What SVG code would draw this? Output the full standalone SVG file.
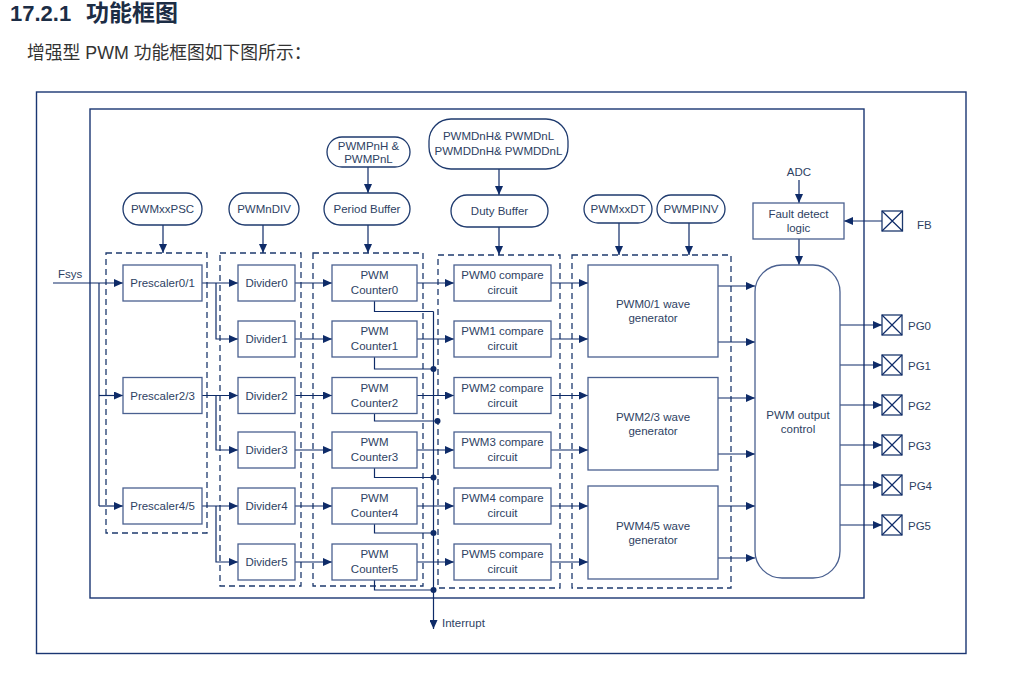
<svg xmlns="http://www.w3.org/2000/svg" width="1030" height="683" viewBox="0 0 1030 683">
<style>
  .t{font-family:"Liberation Sans",Arial,sans-serif;font-size:11.5px;fill:#2e3f63;text-anchor:middle}
  .tl{font-family:"Liberation Sans",Arial,sans-serif;font-size:11.5px;fill:#2e3f63}
  .box{fill:#fff;stroke:#4a6090;stroke-width:1.3}
  .pill{fill:#fff;stroke:#1e3a6e;stroke-width:1.3}
  .dash{fill:none;stroke:#1e3a6e;stroke-width:1.3;stroke-dasharray:6 4}
  .frame{fill:none;stroke:#1a3672;stroke-width:1.4}
  .ln{fill:none;stroke:#0e2b68;stroke-width:1.2}
  .arr{fill:none;stroke:#0e2b68;stroke-width:1.2;marker-end:url(#ah)}
  .pad{fill:#fff;stroke:#1e3a6e;stroke-width:1.3}
  .dot{fill:#0e2b68}
</style>
<defs>
  <marker id="ah" markerWidth="9" markerHeight="8" refX="9" refY="4" orient="auto" markerUnits="userSpaceOnUse">
    <path d="M0,0 L9,4 L0,8 Z" fill="#0e2b68"/>
  </marker>
</defs>
<rect width="1030" height="683" fill="#fff"/>

<!-- heading -->
<text x="10" y="21" font-family="'Liberation Sans',Arial,sans-serif" font-size="22" font-weight="bold" fill="#1c2d45">17.2.1</text>
<text x="86" y="21" font-family="'Noto Sans CJK SC',sans-serif" font-size="23" font-weight="bold" fill="#1c2d45">功能框图</text>
<text x="27" y="59" font-family="'Liberation Sans','Noto Sans CJK SC',sans-serif" font-size="17.8" fill="#333">增强型 PWM 功能框图如下图所示：</text>

<!-- frames -->
<rect class="frame" x="36.5" y="92" width="929.5" height="561.5"/>
<rect class="frame" x="90" y="109" width="774" height="489"/>

<!-- dashed groups -->
<rect class="dash" x="106" y="253" width="101" height="280"/>
<rect class="dash" x="220" y="253" width="81" height="333"/>
<rect class="dash" x="313" y="253" width="110" height="333"/>
<rect class="dash" x="438" y="255" width="122" height="333"/>
<rect class="dash" x="572" y="255" width="159" height="333"/>

<!-- connectors -->
<g id="connectors">
  <line class="arr" x1="163" y1="225" x2="163" y2="253"/>
  <line class="arr" x1="263" y1="225" x2="263" y2="253"/>
  <line class="arr" x1="368" y1="167" x2="368" y2="193"/>
  <line class="arr" x1="368" y1="225" x2="368" y2="253"/>
  <line class="arr" x1="499" y1="169" x2="499" y2="195"/>
  <line class="arr" x1="499" y1="227" x2="499" y2="255"/>
  <line class="arr" x1="619" y1="223" x2="619" y2="255"/>
  <line class="arr" x1="689" y1="223" x2="689" y2="255"/>
  <line class="arr" x1="53" y1="283" x2="123" y2="283"/>
  <path class="ln" d="M99,283 V506"/>
  <line class="arr" x1="99" y1="395.5" x2="123" y2="395.5"/>
  <line class="arr" x1="99" y1="506" x2="123" y2="506"/>
  <line class="arr" x1="202" y1="283" x2="238" y2="283"/>
  <path class="arr" d="M216,283 V339 H238"/>
  <line class="arr" x1="202" y1="395.5" x2="238" y2="395.5"/>
  <path class="arr" d="M216,395.5 V450 H238"/>
  <line class="arr" x1="202" y1="506" x2="238" y2="506"/>
  <path class="arr" d="M216,506 V562 H238"/>
  <line class="arr" x1="295" y1="283" x2="332" y2="283"/>
  <line class="arr" x1="295" y1="339" x2="332" y2="339"/>
  <line class="arr" x1="295" y1="395.5" x2="332" y2="395.5"/>
  <line class="arr" x1="295" y1="450" x2="332" y2="450"/>
  <line class="arr" x1="295" y1="506" x2="332" y2="506"/>
  <line class="arr" x1="295" y1="562" x2="332" y2="562"/>
  <line class="arr" x1="417" y1="283" x2="454" y2="283"/>
  <line class="arr" x1="417" y1="339" x2="454" y2="339"/>
  <line class="arr" x1="417" y1="395.5" x2="454" y2="395.5"/>
  <line class="arr" x1="417" y1="450" x2="454" y2="450"/>
  <line class="arr" x1="417" y1="506" x2="454" y2="506"/>
  <line class="arr" x1="417" y1="562" x2="454" y2="562"/>
  <line class="arr" x1="551" y1="283" x2="588" y2="283"/>
  <line class="arr" x1="551" y1="339" x2="588" y2="339"/>
  <line class="arr" x1="551" y1="395.5" x2="588" y2="395.5"/>
  <line class="arr" x1="551" y1="450" x2="588" y2="450"/>
  <line class="arr" x1="551" y1="506" x2="588" y2="506"/>
  <line class="arr" x1="551" y1="562" x2="588" y2="562"/>
  <line class="arr" x1="718" y1="286" x2="755" y2="286"/>
  <line class="arr" x1="718" y1="342" x2="755" y2="342"/>
  <line class="arr" x1="718" y1="398" x2="755" y2="398"/>
  <line class="arr" x1="718" y1="454" x2="755" y2="454"/>
  <line class="arr" x1="718" y1="506" x2="755" y2="506"/>
  <line class="arr" x1="718" y1="558" x2="755" y2="558"/>
  <path class="ln" d="M374.5,301 V311.5 H433.5"/>
  <path class="ln" d="M374.5,357 V369 H433.5"/>
  <path class="ln" d="M374.5,413.5 V421 H437.5"/>
  <path class="ln" d="M374.5,468 V477.5 H433.5"/>
  <path class="ln" d="M374.5,524 V533 H433.5"/>
  <path class="ln" d="M374.5,580 V590 H433.5"/>
  <line class="arr" x1="433.5" y1="311.5" x2="433.5" y2="629"/>
  <circle class="dot" cx="433.5" cy="369" r="3"/>
  <circle class="dot" cx="437.5" cy="421" r="3"/>
  <circle class="dot" cx="433.5" cy="477.5" r="3"/>
  <circle class="dot" cx="433.5" cy="533" r="3"/>
  <circle class="dot" cx="433.5" cy="590" r="3"/>
  <line class="arr" x1="799" y1="180" x2="799" y2="203"/>
  <line class="arr" x1="799" y1="239" x2="799" y2="265"/>
  <line class="arr" x1="882" y1="221" x2="844" y2="221"/>
  <line class="arr" x1="840" y1="325" x2="882" y2="325"/>
  <line class="arr" x1="840" y1="365" x2="882" y2="365"/>
  <line class="arr" x1="840" y1="405" x2="882" y2="405"/>
  <line class="arr" x1="840" y1="445" x2="882" y2="445"/>
  <line class="arr" x1="840" y1="485" x2="882" y2="485"/>
  <line class="arr" x1="840" y1="525" x2="882" y2="525"/>
</g>

<g id="n-pwmxxpsc"><rect class="pill" x="123" y="193" width="79" height="32" rx="16"/><text class="t" x="162.5" y="213">PWMxxPSC</text></g>
<g id="n-pwmndiv"><rect class="pill" x="229" y="193" width="70" height="32" rx="16"/><text class="t" x="264" y="213">PWMnDIV</text></g>
<g id="n-pwmpnh"><rect class="pill" x="327" y="137" width="83" height="30" rx="15"/><text class="t" x="368.5" y="150">PWMPnH &amp;</text><text class="t" x="368.5" y="163">PWMPnL</text></g>
<g id="n-period"><rect class="pill" x="324" y="193" width="86" height="32" rx="16"/><text class="t" x="367" y="213">Period Buffer</text></g>
<g id="n-pwmdnh"><rect class="pill" x="429" y="119" width="139" height="50" rx="22"/><text class="t" x="498.5" y="140">PWMDnH&amp; PWMDnL</text><text class="t" x="498.5" y="155">PWMDDnH&amp; PWMDDnL</text></g>
<g id="n-duty"><rect class="pill" x="451" y="195" width="97" height="32" rx="16"/><text class="t" x="499.5" y="215">Duty Buffer</text></g>
<g id="n-pwmxxdt"><rect class="pill" x="584" y="195" width="68" height="28" rx="14"/><text class="t" x="618" y="213">PWMxxDT</text></g>
<g id="n-pwmpinv"><rect class="pill" x="657" y="195" width="68" height="28" rx="14"/><text class="t" x="691" y="213">PWMPINV</text></g>

<g id="n-pre01"><rect class="box" x="123" y="265" width="79" height="36"/><text class="t" x="162.5" y="287">Prescaler0/1</text></g>
<g id="n-pre23"><rect class="box" x="123" y="377.5" width="79" height="36"/><text class="t" x="162.5" y="399.5">Prescaler2/3</text></g>
<g id="n-pre45"><rect class="box" x="123" y="488" width="79" height="36"/><text class="t" x="162.5" y="510">Prescaler4/5</text></g>

<g id="n-div0"><rect class="box" x="238" y="265" width="57" height="36"/><text class="t" x="266.5" y="287">Divider0</text></g>
<g id="n-div1"><rect class="box" x="238" y="321" width="57" height="36"/><text class="t" x="266.5" y="343">Divider1</text></g>
<g id="n-div2"><rect class="box" x="238" y="377.5" width="57" height="36"/><text class="t" x="266.5" y="399.5">Divider2</text></g>
<g id="n-div3"><rect class="box" x="238" y="432" width="57" height="36"/><text class="t" x="266.5" y="454">Divider3</text></g>
<g id="n-div4"><rect class="box" x="238" y="488" width="57" height="36"/><text class="t" x="266.5" y="510">Divider4</text></g>
<g id="n-div5"><rect class="box" x="238" y="544" width="57" height="36"/><text class="t" x="266.5" y="566">Divider5</text></g>

<g id="n-cnt0"><rect class="box" x="332" y="265" width="85" height="36"/><text class="t" x="374.5" y="279">PWM</text><text class="t" x="374.5" y="294">Counter0</text></g>
<g id="n-cnt1"><rect class="box" x="332" y="321" width="85" height="36"/><text class="t" x="374.5" y="335">PWM</text><text class="t" x="374.5" y="350">Counter1</text></g>
<g id="n-cnt2"><rect class="box" x="332" y="377.5" width="85" height="36"/><text class="t" x="374.5" y="391.5">PWM</text><text class="t" x="374.5" y="406.5">Counter2</text></g>
<g id="n-cnt3"><rect class="box" x="332" y="432" width="85" height="36"/><text class="t" x="374.5" y="446">PWM</text><text class="t" x="374.5" y="461">Counter3</text></g>
<g id="n-cnt4"><rect class="box" x="332" y="488" width="85" height="36"/><text class="t" x="374.5" y="502">PWM</text><text class="t" x="374.5" y="517">Counter4</text></g>
<g id="n-cnt5"><rect class="box" x="332" y="544" width="85" height="36"/><text class="t" x="374.5" y="558">PWM</text><text class="t" x="374.5" y="573">Counter5</text></g>

<g id="n-cmp0"><rect class="box" x="454" y="265" width="97" height="36"/><text class="t" x="502.5" y="279">PWM0 compare</text><text class="t" x="502.5" y="294">circuit</text></g>
<g id="n-cmp1"><rect class="box" x="454" y="321" width="97" height="36"/><text class="t" x="502.5" y="335">PWM1 compare</text><text class="t" x="502.5" y="350">circuit</text></g>
<g id="n-cmp2"><rect class="box" x="454" y="377.5" width="97" height="36"/><text class="t" x="502.5" y="391.5">PWM2 compare</text><text class="t" x="502.5" y="406.5">circuit</text></g>
<g id="n-cmp3"><rect class="box" x="454" y="432" width="97" height="36"/><text class="t" x="502.5" y="446">PWM3 compare</text><text class="t" x="502.5" y="461">circuit</text></g>
<g id="n-cmp4"><rect class="box" x="454" y="488" width="97" height="36"/><text class="t" x="502.5" y="502">PWM4 compare</text><text class="t" x="502.5" y="517">circuit</text></g>
<g id="n-cmp5"><rect class="box" x="454" y="544" width="97" height="36"/><text class="t" x="502.5" y="558">PWM5 compare</text><text class="t" x="502.5" y="573">circuit</text></g>

<g id="n-wave01"><rect class="box" x="588" y="265" width="130" height="92"/><text class="t" x="653" y="308">PWM0/1 wave</text><text class="t" x="653" y="322">generator</text></g>
<g id="n-wave23"><rect class="box" x="588" y="377.5" width="130" height="92.5"/><text class="t" x="653" y="420.5">PWM2/3 wave</text><text class="t" x="653" y="435">generator</text></g>
<g id="n-wave45"><rect class="box" x="588" y="486" width="130" height="93"/><text class="t" x="653" y="529.5">PWM4/5 wave</text><text class="t" x="653" y="543.5">generator</text></g>

<g id="n-outctl"><rect class="box" x="755" y="265" width="85" height="313" rx="27"/><text class="t" x="798" y="419">PWM output</text><text class="t" x="798" y="433">control</text></g>

<g id="n-adc"><text class="t" x="799" y="176">ADC</text></g>
<g id="n-fault"><rect class="box" x="753" y="203" width="91" height="36"/><text class="t" x="798.5" y="218">Fault detect</text><text class="t" x="798.5" y="232">logic</text></g>

<g id="n-fb"><rect class="pad" x="882" y="211" width="20.5" height="20"/><path class="ln" d="M882,211 L902.5,231 M902.5,211 L882,231"/><text class="tl" x="917" y="229">FB</text></g>
<g id="n-pg0"><rect class="pad" x="882" y="315" width="20" height="20"/><path class="ln" d="M882,315 L902,335 M902,315 L882,335"/><text class="tl" x="908" y="329.5">PG0</text></g>
<g id="n-pg1"><rect class="pad" x="882" y="355" width="20" height="20"/><path class="ln" d="M882,355 L902,375 M902,355 L882,375"/><text class="tl" x="908" y="369.5">PG1</text></g>
<g id="n-pg2"><rect class="pad" x="882" y="395" width="20" height="20"/><path class="ln" d="M882,395 L902,415 M902,395 L882,415"/><text class="tl" x="908" y="409.5">PG2</text></g>
<g id="n-pg3"><rect class="pad" x="882" y="435" width="20" height="20"/><path class="ln" d="M882,435 L902,455 M902,435 L882,455"/><text class="tl" x="908" y="449.5">PG3</text></g>
<g id="n-pg4"><rect class="pad" x="882" y="475" width="20" height="20"/><path class="ln" d="M882,475 L902,495 M902,475 L882,495"/><text class="tl" x="909" y="489.5">PG4</text></g>
<g id="n-pg5"><rect class="pad" x="882" y="515" width="20" height="20"/><path class="ln" d="M882,515 L902,535 M902,515 L882,535"/><text class="tl" x="908" y="529.5">PG5</text></g>

<g id="n-fsys"><text class="tl" x="58" y="278">Fsys</text></g>
<g id="n-interrupt"><text class="tl" x="442" y="627" font-size="11">Interrupt</text></g>
</svg>
